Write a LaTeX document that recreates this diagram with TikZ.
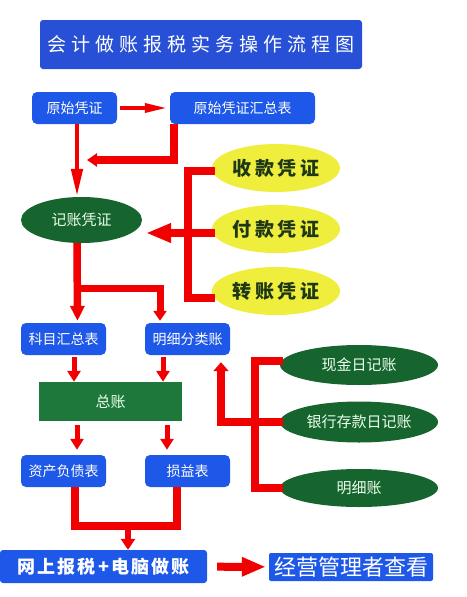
\documentclass[tikz,border=0pt]{standalone}
\usepackage{fontspec}
\newfontfamily\cjk{Noto Sans CJK SC}
\usetikzlibrary{arrows.meta,shapes.geometric}
\definecolor{boxblue}{RGB}{30,88,232}
\definecolor{titleblue}{RGB}{40,80,214}
\definecolor{dkgreen}{RGB}{22,100,46}
\definecolor{rectgreen}{RGB}{30,120,60}
\definecolor{ylw}{RGB}{240,238,60}
\definecolor{ytext}{RGB}{30,55,20}
\definecolor{redl}{RGB}{240,0,0}
\tikzset{
  bluebox/.style={draw=none,fill=boxblue,rounded corners=5pt,text=white,inner sep=0pt,
    minimum width=85pt,minimum height=32pt,font=\cjk\fontsize{14}{16}\selectfont},
  yellowell/.style={ellipse,fill=ylw,inner sep=0pt,minimum width=128pt,minimum height=48pt,
    text=ytext,font=\cjk\bfseries\fontsize{19}{21}\selectfont\addfontfeatures{LetterSpace=18}},
  greenell/.style={ellipse,fill=dkgreen,inner sep=0pt,text=white!92!green,
    font=\cjk\fontsize{15}{17}\selectfont},
  redthin/.style={draw=redl,line width=3.5pt},
  redmid/.style={draw=redl,line width=5pt},
  redthick/.style={draw=redl,line width=8pt},
}
\begin{document}
\begin{tikzpicture}[x=1pt,y=-1pt]
\useasboundingbox (0,0) rectangle (466,597);
% title
\node[fill=titleblue,rounded corners=3pt,inner sep=0pt,minimum width=322pt,minimum height=49pt,
  text=white,font=\cjk\fontsize{19}{21}\selectfont\addfontfeatures{LetterSpace=26}] (title) at (201,44.5) {会计做账报税实务操作流程图};
% boxes
\node[bluebox] (yspz) at (74.5,108) {原始凭证};
\node[bluebox,minimum width=145pt] (hzb) at (242.5,108) {原始凭证汇总表};
\node[greenell,minimum width=121pt,minimum height=46pt] (jzpz) at (81.5,220) {记账凭证};
\node[yellowell] (sk) at (276,168) {收款凭证};
\node[yellowell] (fk) at (276,229) {付款凭证};
\node[yellowell] (zz) at (276,291) {转账凭证};
\node[bluebox] (kmhz) at (63.5,339) {科目汇总表};
\node[bluebox] (mxfl) at (187.5,339) {明细分类账};
\node[fill=rectgreen,inner sep=0pt,minimum width=143pt,minimum height=39pt,text=white!92!green,
  font=\cjk\fontsize{15}{17}\selectfont] (zongz) at (110.5,401.5) {总账};
\node[bluebox] (zcfz) at (63.5,471) {资产负债表};
\node[bluebox] (syb) at (187.5,471) {损益表};
\node[greenell,minimum width=158pt,minimum height=40pt] (xj) at (359,365) {现金日记账};
\node[greenell,minimum width=158pt,minimum height=41pt] (yh) at (359,422) {银行存款日记账};
\node[greenell,minimum width=158pt,minimum height=38pt] (mxz) at (359,488) {明细账};
\node[fill=boxblue,rounded corners=3pt,inner sep=0pt,minimum width=207pt,minimum height=33pt,text=white,
  font=\cjk\bfseries\fontsize{18}{20}\selectfont\addfontfeatures{LetterSpace=12}] (wsbs) at (103.5,566.5) {网上报税+电脑做账};
\node[fill=boxblue,rounded corners=2pt,inner sep=0pt,minimum width=164pt,minimum height=28pt,text=white,
  font=\cjk\fontsize{22}{24}\selectfont] (jygl) at (351,567) {经营管理者查看};
% connectors
\draw[redthin,-{Triangle[width=9pt,length=22pt]},shorten <=3pt,shorten >=3pt] (yspz) -- (hzb);
\draw[redthin,line width=4.5pt,-{Triangle[width=11pt,length=28pt]}] ([xshift=2.5pt]yspz.south) -- ([xshift=-4.5pt]jzpz.north);
\coordinate (c1) at (87,160);
\draw[redthick,line width=7.5pt,-{Triangle[width=13pt,length=10pt]}] ([xshift=4pt]hzb.south west) |- (c1);
% yellow bracket
\coordinate (bk1) at (188,298);
\draw[redthick,line width=8.5pt] ([xshift=3pt,yshift=-3pt]sk.west) -| (bk1) -- ([xshift=3pt,yshift=-7pt]zz.west);
\coordinate (jzin) at (146,233);
\draw[redthick,-{Triangle[width=18pt,length=25pt]}] ([xshift=3pt,yshift=-4pt]fk.west) -- (jzin);
% from jzpz down
\coordinate (j0) at ([xshift=-4.5pt]jzpz.south);
\coordinate (j1) at (77,288);
\draw[redthick,line width=7.5pt,-{Triangle[width=14pt,length=15pt]}] (j0) -- ([xshift=14pt,yshift=2pt]kmhz.north);
\draw[redthick,line width=7pt,-{Triangle[width=13pt,length=10pt]}] (j1) -| ([xshift=-27.5pt,yshift=2pt]mxfl.north);
% short arrows
\coordinate (k1) at ([xshift=10.5pt,yshift=-2pt]kmhz.south);
\coordinate (k2) at ([xshift=-24.5pt,yshift=-2pt]mxfl.south);
\draw[redmid,-{Triangle[width=13pt,length=11pt]}] (k1) -- (k1 |- zongz.north);
\draw[redmid,-{Triangle[width=13pt,length=11pt]}] (k2) -- (k2 |- zongz.north);
\coordinate (z1) at ([xshift=-33.5pt,yshift=-4pt]zongz.south);
\coordinate (z2) at ([xshift=56.5pt,yshift=-4pt]zongz.south);
\draw[redmid,-{Triangle[width=13pt,length=11pt]},shorten >=5pt] (z1) -- (z1 |- zcfz.north);
\draw[redmid,-{Triangle[width=13pt,length=11pt]},shorten >=5pt] (z2) -- (z2 |- syb.north);
% merge at bottom
\coordinate (b1) at ([xshift=11.5pt]zcfz.south);
\coordinate (b2) at ([xshift=-10.5pt]syb.south);
\coordinate (bm) at (128,526);
\draw[redthick,line join=miter] (b1) -- (b1 |- bm) -- (b2 |- bm) -- (b2);
\draw[redthick,line width=6pt,-{Triangle[width=14pt,length=11pt]}] (bm) -- (bm |- wsbs.north);
\draw[redthick,-{Triangle[width=18pt,length=24pt]},shorten <=10pt,shorten >=3pt] (wsbs) -- (jygl);
% right bracket
\coordinate (r1) at (255,488);
\draw[redthick,line width=8.5pt] ([xshift=3pt,yshift=4pt]xj.west) -| (r1) -- ([xshift=3pt]mxz.west);
\draw[redthick,-{Triangle[width=15pt,length=9pt]}] ([xshift=3pt]yh.west) -| ([xshift=33.5pt,yshift=-7pt]mxfl.south);
\end{tikzpicture}
\end{document}
